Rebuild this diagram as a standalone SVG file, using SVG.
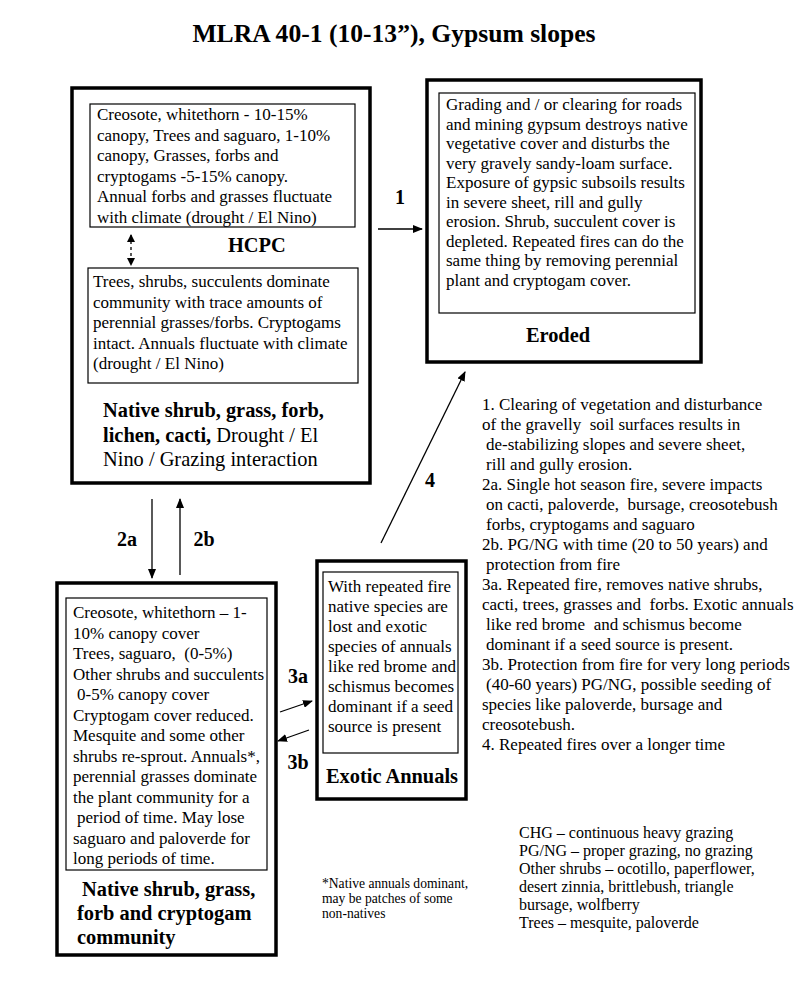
<svg xmlns="http://www.w3.org/2000/svg" width="800" height="985" viewBox="0 0 800 985" font-family="'Liberation Serif', 'DejaVu Serif', 'Noto Serif', 'Times New Roman', Times, serif">
<defs>
<marker id="ah" markerUnits="userSpaceOnUse" markerWidth="10" markerHeight="8" refX="9" refY="4" orient="auto">
<path d="M0,0 L10,4 L0,8 Z" fill="#000"/>
</marker>
<marker id="ahs" markerUnits="userSpaceOnUse" markerWidth="8" markerHeight="8" refX="7" refY="4" orient="auto-start-reverse">
<path d="M0,0 L8,4 L0,8 Z" fill="#000"/>
</marker>
</defs>
<style>
.outer{fill:#fff;stroke:#000;stroke-width:3.5}
.inner{fill:#fff;stroke:#000;stroke-width:1.2}
.t{font-size:17px;fill:#000}
.n{font-size:17px;fill:#000}
.s{font-size:16px;fill:#000}
.f{font-size:13.6px;fill:#000}
.b{font-size:20.4px;font-weight:bold;fill:#000}
.nw{font-weight:normal}
.lbl{font-size:20px;font-weight:bold;fill:#000}
.title{font-size:25.6px;font-weight:bold;fill:#000}
.c{stroke:#000;stroke-width:1.3;fill:none}
</style>
<rect width="800" height="985" fill="#fff"/>
<text class="title" x="394" y="42" text-anchor="middle">MLRA 40-1 (10-13”), Gypsum slopes</text>

<g id="hcpc">
<rect class="outer" x="72" y="88" width="298" height="395"/>
<rect class="inner" x="90" y="104" width="265" height="123"/>
<text class="t">
<tspan x="97" y="120">Creosote, whitethorn - 10-15%</tspan>
<tspan x="97" y="140.5">canopy, Trees and saguaro, 1-10%</tspan>
<tspan x="97" y="161">canopy, Grasses, forbs and</tspan>
<tspan x="97" y="181.5">cryptogams -5-15% canopy.</tspan>
<tspan x="97" y="202">Annual forbs and grasses fluctuate</tspan>
<tspan x="97" y="222.5">with climate (drought / El Nino)</tspan>
</text>
<line x1="131" y1="235" x2="131" y2="265" stroke="#000" stroke-width="1.3" stroke-dasharray="3,3" marker-start="url(#ahs)" marker-end="url(#ahs)"/>
<text class="b" x="228" y="252">HCPC</text>
<rect class="inner" x="88" y="268" width="270" height="115"/>
<text class="t">
<tspan x="93" y="287">Trees, shrubs, succulents dominate</tspan>
<tspan x="93" y="307.5">community with trace amounts of</tspan>
<tspan x="93" y="328">perennial grasses/forbs. Cryptogams</tspan>
<tspan x="93" y="348.5">intact. Annuals fluctuate with climate</tspan>
<tspan x="93" y="369">(drought / El Nino)</tspan>
</text>
<text class="b" x="103" y="417">Native shrub, grass, forb,</text>
<text class="b" x="103" y="442">lichen, cacti,<tspan class="nw"> Drought / El</tspan></text>
<text class="b nw" x="103" y="466">Nino / Grazing interaction</text>
</g>

<g id="eroded">
<rect class="outer" x="427" y="80" width="274" height="282"/>
<rect class="inner" x="439" y="93" width="256" height="220"/>
<text class="t">
<tspan x="446" y="110">Grading and / or clearing for roads</tspan>
<tspan x="446" y="129.5">and mining gypsum destroys native</tspan>
<tspan x="446" y="149">vegetative cover and disturbs the</tspan>
<tspan x="446" y="168.5">very gravely sandy-loam surface.</tspan>
<tspan x="446" y="188">Exposure of gypsic subsoils results</tspan>
<tspan x="446" y="207.5">in severe sheet, rill and gully</tspan>
<tspan x="446" y="227">erosion. Shrub, succulent cover is</tspan>
<tspan x="446" y="246.5">depleted. Repeated fires can do the</tspan>
<tspan x="446" y="266">same thing by removing perennial</tspan>
<tspan x="446" y="285.5">plant and cryptogam cover.</tspan>
</text>
<text class="b" x="558" y="342" text-anchor="middle">Eroded</text>
</g>

<g id="native-community">
<rect class="outer" x="57" y="583" width="219" height="372"/>
<rect class="inner" x="66" y="598" width="201" height="272"/>
<text class="t">
<tspan x="73" y="618">Creosote, whitethorn – 1-</tspan>
<tspan x="73" y="638.5">10% canopy cover</tspan>
<tspan x="73" y="659">Trees, saguaro,&#160; (0-5%)</tspan>
<tspan x="73" y="679.5">Other shrubs and succulents</tspan>
<tspan x="77" y="700">0-5% canopy cover</tspan>
<tspan x="73" y="720.5">Cryptogam cover reduced.</tspan>
<tspan x="73" y="741">Mesquite and some other</tspan>
<tspan x="73" y="761.5">shrubs re-sprout. Annuals*,</tspan>
<tspan x="73" y="782">perennial grasses dominate</tspan>
<tspan x="73" y="802.5">the plant community for a</tspan>
<tspan x="77" y="823">period of time. May lose</tspan>
<tspan x="73" y="843.5">saguaro and paloverde for</tspan>
<tspan x="73" y="864">long periods of time.</tspan>
</text>
<text class="b">
<tspan x="82" y="896">Native shrub, grass,</tspan>
<tspan x="77" y="920">forb and cryptogam</tspan>
<tspan x="77" y="944">community</tspan>
</text>
</g>

<g id="exotic-annuals">
<rect class="outer" x="317" y="561" width="149" height="238"/>
<rect class="inner" x="323" y="572" width="135" height="181"/>
<text class="t">
<tspan x="328" y="592">With repeated fire</tspan>
<tspan x="328" y="612">native species are</tspan>
<tspan x="328" y="632">lost and exotic</tspan>
<tspan x="328" y="652">species of annuals</tspan>
<tspan x="328" y="672">like red brome and</tspan>
<tspan x="328" y="692">schismus becomes</tspan>
<tspan x="328" y="712">dominant if a seed</tspan>
<tspan x="328" y="732">source is present</tspan>
</text>
<text class="b" x="392" y="783" text-anchor="middle">Exotic Annuals</text>
</g>

<g id="connectors">
<line class="c" x1="378" y1="229" x2="422" y2="229" marker-end="url(#ah)"/>
<text class="lbl" x="400" y="204" text-anchor="middle">1</text>
<line class="c" x1="152" y1="499" x2="152" y2="578" marker-end="url(#ah)"/>
<text class="lbl" x="127" y="546" text-anchor="middle">2a</text>
<line class="c" x1="180" y1="575" x2="180" y2="499" marker-end="url(#ah)"/>
<text class="lbl" x="204" y="546" text-anchor="middle">2b</text>
<line class="c" x1="280" y1="712" x2="312" y2="701" marker-end="url(#ah)"/>
<text class="lbl" x="298" y="683" text-anchor="middle">3a</text>
<line class="c" x1="309" y1="730" x2="278" y2="741" marker-end="url(#ah)"/>
<text class="lbl" x="298" y="769" text-anchor="middle">3b</text>
<line class="c" x1="381" y1="543" x2="465" y2="372" marker-end="url(#ah)"/>
<text class="lbl" x="430" y="487" text-anchor="middle">4</text>
</g>

<g id="notes">
<text class="n">
<tspan x="482" y="410">1. Clearing of vegetation and disturbance</tspan>
<tspan x="482" y="430">of the gravelly&#160; soil surfaces results in</tspan>
<tspan x="486" y="450">de-stabilizing slopes and severe sheet,</tspan>
<tspan x="486" y="470">rill and gully erosion.</tspan>
<tspan x="482" y="490">2a. Single hot season fire, severe impacts</tspan>
<tspan x="486" y="510">on cacti, paloverde,&#160; bursage, creosotebush</tspan>
<tspan x="486" y="530">forbs, cryptogams and saguaro</tspan>
<tspan x="482" y="550">2b. PG/NG with time (20 to 50 years) and</tspan>
<tspan x="486" y="570">protection from fire</tspan>
<tspan x="482" y="590">3a. Repeated fire, removes native shrubs,</tspan>
<tspan x="482" y="610">cacti, trees, grasses and&#160; forbs. Exotic annuals</tspan>
<tspan x="486" y="630">like red brome&#160; and schismus become</tspan>
<tspan x="486" y="650">dominant if a seed source is present.</tspan>
<tspan x="482" y="670">3b. Protection from fire for very long periods</tspan>
<tspan x="486" y="690">(40-60 years) PG/NG, possible seeding of</tspan>
<tspan x="482" y="710">species like paloverde, bursage and</tspan>
<tspan x="482" y="730">creosotebush.</tspan>
<tspan x="482" y="750">4. Repeated fires over a longer time</tspan>
</text>
<text class="f">
<tspan x="322" y="888">*Native annuals dominant,</tspan>
<tspan x="322" y="903">may be patches of some</tspan>
<tspan x="322" y="918">non-natives</tspan>
</text>
<text class="s">
<tspan x="519" y="838">CHG – continuous heavy grazing</tspan>
<tspan x="519" y="856">PG/NG – proper grazing, no grazing</tspan>
<tspan x="519" y="874">Other shrubs – ocotillo, paperflower,</tspan>
<tspan x="519" y="892">desert zinnia, brittlebush, triangle</tspan>
<tspan x="519" y="910">bursage, wolfberry</tspan>
<tspan x="519" y="928">Trees – mesquite, paloverde</tspan>
</text>
</g>
</svg>
